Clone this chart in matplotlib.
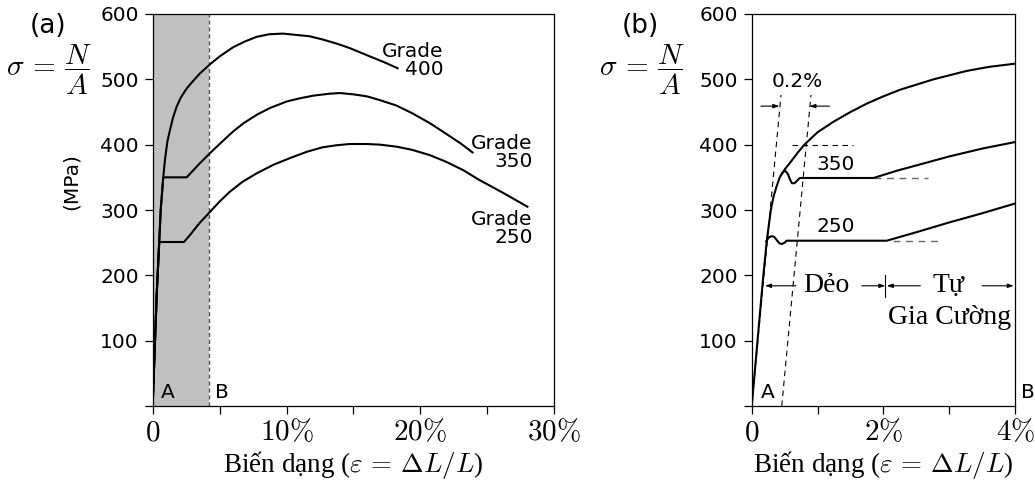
import matplotlib
matplotlib.use("Agg")
from matplotlib import pyplot as plt
from matplotlib import rcParams

rcParams["font.family"] = "DejaVu Sans"
rcParams["mathtext.fontset"] = "cm"
rcParams["axes.linewidth"] = 0.9

# ---- panel (a): strain in %, stress in MPa
g400_x = [0, 0.3, 0.49, 0.6, 0.79, 0.92, 1.1, 1.29, 1.5, 1.79, 2.1, 2.54, 3.0, 3.53,
          4.28, 5.0, 6.0, 6.9, 7.76, 8.7, 9.75, 10.7, 11.7, 12.7, 13.7, 14.7, 16.0,
          17.2, 18.3]
g400_y = [0, 170, 251, 300, 350, 377, 405, 422, 440, 458, 472, 486, 497, 509,
          523, 535, 549, 558, 565, 569, 570, 568, 566, 561, 555, 548, 537,
          527, 517]
g350_x = [0, 0.3, 0.49, 0.6, 0.79, 2.54, 3.0, 3.5, 4.28, 5.0, 6.0, 6.8, 7.8, 8.75,
          10.0, 11.0, 12.0, 13.2, 14.0, 15.0, 16.0, 17.0, 18.2, 19.4, 20.7, 21.9,
          23.0, 23.9]
g350_y = [0, 170, 251, 300, 350, 350, 360, 371, 387, 401, 420, 433, 446, 456,
          466, 471, 475, 478, 479, 477, 474, 468, 460, 448, 433, 417,
          402, 388]
g250_x = [0, 0.3, 0.49, 2.34, 2.8, 3.5, 4.28, 5.0, 5.77, 6.7, 7.76, 9.0, 10.2, 11.5,
          12.7, 13.7, 14.7, 16.0, 17.0, 18.2, 19.4, 20.7, 21.9, 23.2, 24.4, 26.2, 28.0]
g250_y = [0, 170, 251, 251, 262, 280, 297, 313, 328, 343, 356, 369, 379, 389,
          396, 399, 401, 401, 400, 397, 392, 384, 374, 361, 346, 326, 305]
shade_a = [0, 4.2]
xticks_a = [0, 5, 10, 15, 20, 25, 30]
xlabels_a = ["$0$", "", r"$10\%$", "", r"$20\%$", "", r"$30\%$"]

# ---- panel (b)
top_x = [0, 0.17, 0.23, 0.29, 0.33, 0.38, 0.43, 0.5, 0.58, 0.7, 0.81, 1.0, 1.24,
         1.5, 1.75, 2.0, 2.25, 2.76, 3.27, 3.6, 4.0]
top_y = [0, 193, 254, 300, 320, 337, 351, 362, 372, 388, 401, 419, 435,
         450, 463, 474, 484, 500, 513, 519, 524]
b350_x = [0.46, 0.49, 0.51, 0.55, 0.58, 0.61, 0.65, 0.69, 0.73, 0.76, 1.85, 2.2, 2.6,
          3.0, 3.5, 4.0]
b350_y = [356, 359, 360, 355, 347, 341, 341, 345, 349, 349, 349, 360, 371, 382, 394, 404]
b250_x = [0.22, 0.26, 0.30, 0.34, 0.38, 0.42, 0.46, 0.5, 0.53, 2.05, 2.5, 3.0, 3.5, 4.0]
b250_y = [252, 258, 260, 259, 254, 249, 248, 250, 253, 253, 266, 281, 295, 310]
elastic_x = [0, 0.445]
elastic_y = [0, 476]
offset_x = [0.456, 0.9]
offset_y = [0, 476]
yield400_x = [0.61, 1.54]
dash350_x = [1.85, 2.68]
dash250_x = [2.15, 2.91]
xticks_b = [0, 1, 2, 3, 4]
xlabels_b = ["$0$", "", r"$2\%$", "", r"$4\%$"]

yticks = [0, 100, 200, 300, 400, 500, 600]
ylabels = ["", "100", "200", "300", "400", "500", "600"]

XLABEL = r"Biến dạng ($\varepsilon\,=\,\Delta L/L$)"
SERIF = "Liberation Serif"
LW = 1.5
FS = 14.5


def style_axes(ax, xlim, xticks, xlabels):
    ax.set_xlim(*xlim)
    ax.set_ylim(0, 600)
    ax.set_xticks(xticks)
    ax.set_xticklabels(xlabels, fontsize=21)
    ax.set_yticks(yticks)
    ax.set_yticklabels(ylabels, fontsize=FS)
    ax.tick_params(direction="out", length=6, width=0.9, pad=4)
    ax.tick_params(axis="x", pad=3)
    ax.set_xlabel(XLABEL, fontsize=19.5, family=SERIF, labelpad=2)


def plot():
    fig = plt.figure(figsize=(10.35, 4.86), dpi=100)
    ax_a = fig.add_axes([0.1475, 0.1646, 0.388, 0.8066])
    ax_b = fig.add_axes([0.7263, 0.1646, 0.2545, 0.8066])

    # panel (a)
    ax_a.axvspan(*shade_a, color="#c0c0c0", lw=0, zorder=0)
    ax_a.axvline(shade_a[1], color="#555555", lw=1, ls=(0, (3, 2)))
    for xs, ys in [(g400_x, g400_y), (g350_x, g350_y), (g250_x, g250_y)]:
        ax_a.plot(xs, ys, color="black", lw=LW)
    gkw = dict(ha="right", va="center", fontsize=FS, linespacing=0.9)
    ax_a.text(21.7, 529, "Grade\n400", **gkw)
    ax_a.text(28.4, 388, "Grade\n350", **gkw)
    ax_a.text(28.4, 272, "Grade\n250", **gkw)
    ax_a.text(1.15, 21, "A", ha="center", va="center", fontsize=FS)
    ax_a.text(5.2, 21, "B", ha="center", va="center", fontsize=FS)
    style_axes(ax_a, (0, 30), xticks_a, xlabels_a)

    # panel (b)
    ax_b.plot(elastic_x, elastic_y, color="black", lw=0.8, ls=(0, (5, 4)))
    ax_b.plot(offset_x, offset_y, color="black", lw=0.8, ls=(0, (5, 4)))
    ax_b.plot(yield400_x, [400, 400], color="black", lw=0.8, ls=(0, (5, 4)))
    ax_b.plot(dash350_x, [349, 349], color="#666666", lw=1, ls=(0, (5, 4)))
    ax_b.plot(dash250_x, [253, 253], color="#666666", lw=1, ls=(0, (5, 4)))
    for xs, ys in [(top_x, top_y), (b350_x, b350_y), (b250_x, b250_y)]:
        ax_b.plot(xs, ys, color="black", lw=LW)

    arrow = dict(arrowstyle="-|>,head_length=0.35,head_width=0.12", color="black",
                 lw=0.8, shrinkA=0, shrinkB=0)
    ax_b.annotate("", xy=(0.42, 459), xytext=(0.14, 459), arrowprops=arrow)
    ax_b.annotate("", xy=(0.875, 459), xytext=(1.18, 459), arrowprops=arrow)
    ax_b.annotate("", xy=(0.2, 184), xytext=(0.67, 184), arrowprops=arrow)
    ax_b.annotate("", xy=(2.03, 184), xytext=(1.67, 184), arrowprops=arrow)
    ax_b.annotate("", xy=(2.05, 184), xytext=(2.56, 184), arrowprops=arrow)
    ax_b.annotate("", xy=(3.98, 184), xytext=(3.5, 184), arrowprops=arrow)
    ax_b.plot([2.03, 2.03], [167, 200], color="black", lw=0.8)

    ax_b.text(0.685, 496, "0.2%", ha="center", va="center", fontsize=FS)
    ax_b.text(1.28, 369, "350", ha="center", va="center", fontsize=FS)
    ax_b.text(1.28, 274, "250", ha="center", va="center", fontsize=FS)
    ax_b.text(1.13, 184, "Dẻo", ha="center", va="center", fontsize=20, family=SERIF)
    ax_b.text(2.98, 184, "Tự", ha="center", va="center", fontsize=20, family=SERIF)
    ax_b.text(3.0, 135, "Gia Cường", ha="center", va="center", fontsize=20, family=SERIF)
    ax_b.text(0.25, 21, "A", ha="center", va="center", fontsize=FS)
    ax_b.text(4.19, 21, "B", ha="center", va="center", fontsize=FS, clip_on=False)
    style_axes(ax_b, (0, 4), xticks_b, xlabels_b)

    # figure-level labels
    sigma = r"$\sigma\,=\,\dfrac{N}{A}$"
    fig.text(0.0464, 0.9465, "(a)", ha="center", va="center", fontsize=19)
    fig.text(0.0473, 0.857, sigma, ha="center", va="center", fontsize=21)
    fig.text(0.0686, 0.627, "(MPa)", ha="center", va="center", fontsize=FS, rotation=90)
    fig.text(0.6184, 0.9465, "(b)", ha="center", va="center", fontsize=19)
    fig.text(0.6203, 0.857, sigma, ha="center", va="center", fontsize=21)

    fig.savefig("out.png", dpi=100)


def main():
    plot()


if __name__ == "__main__":
    main()
